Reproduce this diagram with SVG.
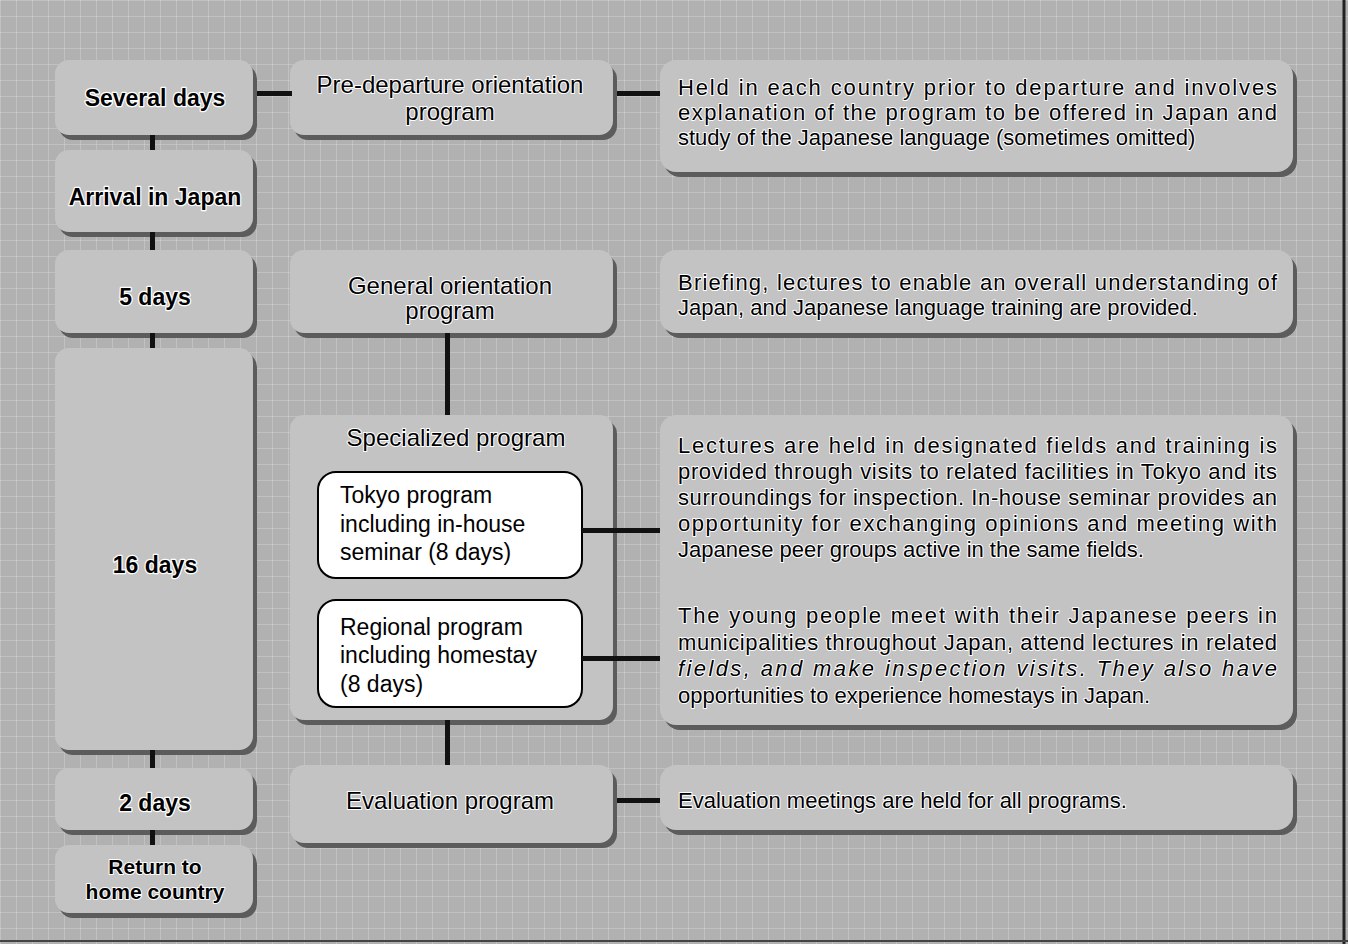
<svg xmlns="http://www.w3.org/2000/svg" width="1348" height="944" viewBox="0 0 1348 944">
<style>
.bg{fill:#b1b1b1}
.box{fill:#c3c3c3}
.sh{fill:#5c5c5c}
.wbox{fill:#ffffff;stroke:#000;stroke-width:2}
.con{fill:#111}
text{font-family:"Liberation Sans",Arial,Helvetica,sans-serif;fill:#000}
.lb{font-size:23px;font-weight:bold;text-anchor:middle;stroke:#fff;stroke-width:2.5px;paint-order:stroke;stroke-linejoin:round}
.lb2{font-size:21px;font-weight:bold;text-anchor:middle;stroke:#fff;stroke-width:2px;paint-order:stroke;stroke-linejoin:round}
.mid{font-size:24px;text-anchor:middle;stroke:#fff;stroke-width:2px;paint-order:stroke;stroke-linejoin:round}
.rt{font-size:22px;stroke:#fff;stroke-width:2px;paint-order:stroke;stroke-linejoin:round}
.it{font-style:italic}
.wt{font-size:23px}
</style>
<defs>
<pattern id="grid" width="16" height="16" patternUnits="userSpaceOnUse">
<path d="M0 0.5H16M0.5 0V16" stroke="#ffffff" stroke-opacity="0.2" stroke-width="1" fill="none"/>
</pattern>
</defs>
<rect class="bg" x="0" y="0" width="1348" height="944"/>
<rect x="0" y="0" width="1348" height="944" fill="url(#grid)"/>
<line x1="1344" y1="0" x2="1344" y2="944" stroke="#222" stroke-width="3"/>
<line x1="0" y1="941" x2="1348" y2="941" stroke="#444" stroke-width="2"/>

<g id="several-days"><rect class="sh" x="59" y="65" width="198" height="75" rx="14"/><rect class="box" x="55" y="60" width="198" height="75" rx="14"/><text class="lb" x="155" y="106">Several days</text></g>
<g id="arrival"><rect class="sh" x="59" y="155" width="198" height="82" rx="14"/><rect class="box" x="55" y="150" width="198" height="82" rx="14"/><text class="lb" x="155" y="205">Arrival in Japan</text></g>
<g id="five-days"><rect class="sh" x="59" y="255" width="198" height="83" rx="14"/><rect class="box" x="55" y="250" width="198" height="83" rx="14"/><text class="lb" x="155" y="305">5 days</text></g>
<g id="sixteen-days"><rect class="sh" x="59" y="353" width="198" height="402" rx="14"/><rect class="box" x="55" y="348" width="198" height="402" rx="14"/><text class="lb" x="155" y="573">16 days</text></g>
<g id="two-days"><rect class="sh" x="59" y="773" width="198" height="62" rx="14"/><rect class="box" x="55" y="768" width="198" height="62" rx="14"/><text class="lb" x="155" y="811">2 days</text></g>
<g id="return"><rect class="sh" x="59" y="850" width="198" height="68" rx="14"/><rect class="box" x="55" y="845" width="198" height="68" rx="14"/><text class="lb2" x="155" y="874">Return to</text><text class="lb2" x="155" y="899">home country</text></g>

<g id="pre-departure"><rect class="sh" x="294" y="65" width="323" height="75" rx="14"/><rect class="box" x="290" y="60" width="323" height="75" rx="14"/><text class="mid" x="450" y="93">Pre-departure orientation</text><text class="mid" x="450" y="120">program</text></g>
<g id="general"><rect class="sh" x="294" y="255" width="323" height="83" rx="14"/><rect class="box" x="290" y="250" width="323" height="83" rx="14"/><text class="mid" x="450" y="294">General orientation</text><text class="mid" x="450" y="319">program</text></g>
<g id="specialized"><rect class="sh" x="294" y="420" width="323" height="305" rx="14"/><rect class="box" x="290" y="415" width="323" height="305" rx="14"/><text class="mid" x="456" y="446">Specialized program</text></g>
<g id="evaluation"><rect class="sh" x="294" y="770" width="323" height="78" rx="14"/><rect class="box" x="290" y="765" width="323" height="78" rx="14"/><text class="mid" x="450" y="809">Evaluation program</text></g>

<g id="tokyo"><rect class="wbox" x="318" y="472" width="264" height="106" rx="18"/><text class="wt" x="340" y="503">Tokyo program</text><text class="wt" x="340" y="532">including in-house</text><text class="wt" x="340" y="560">seminar (8 days)</text></g>
<g id="regional"><rect class="wbox" x="318" y="600" width="264" height="107" rx="18"/><text class="wt" x="340" y="635">Regional program</text><text class="wt" x="340" y="663">including homestay</text><text class="wt" x="340" y="692">(8 days)</text></g>

<g id="desc-pre"><rect class="sh" x="664" y="65" width="633" height="112" rx="16"/><rect class="box" x="660" y="60" width="633" height="112" rx="16"/>
<text class="rt" x="678" y="95" textLength="599" lengthAdjust="spacing">Held in each country prior to departure and involves</text>
<text class="rt" x="678" y="120" textLength="599" lengthAdjust="spacing">explanation of the program to be offered in Japan and</text>
<text class="rt" x="678" y="145">study of the Japanese language (sometimes omitted)</text></g>
<g id="desc-general"><rect class="sh" x="664" y="255" width="633" height="83" rx="16"/><rect class="box" x="660" y="250" width="633" height="83" rx="16"/>
<text class="rt" x="678" y="290" textLength="599" lengthAdjust="spacing">Briefing, lectures to enable an overall understanding of</text>
<text class="rt" x="678" y="315">Japan, and Japanese language training are provided.</text></g>
<g id="desc-specialized"><rect class="sh" x="664" y="420" width="633" height="310" rx="16"/><rect class="box" x="660" y="415" width="633" height="310" rx="16"/>
<text class="rt" x="678" y="453" textLength="599" lengthAdjust="spacing">Lectures are held in designated fields and training is</text>
<text class="rt" x="678" y="479" textLength="599" lengthAdjust="spacing">provided through visits to related facilities in Tokyo and its</text>
<text class="rt" x="678" y="505" textLength="599" lengthAdjust="spacing">surroundings for inspection. In-house seminar provides an</text>
<text class="rt" x="678" y="531" textLength="599" lengthAdjust="spacing">opportunity for exchanging opinions and meeting with</text>
<text class="rt" x="678" y="557">Japanese peer groups active in the same fields.</text>
<text class="rt" x="678" y="623" textLength="599" lengthAdjust="spacing">The young people meet with their Japanese peers in</text>
<text class="rt" x="678" y="650" textLength="599" lengthAdjust="spacing">municipalities throughout Japan, attend lectures in related</text>
<text class="rt it" x="678" y="676" textLength="599" lengthAdjust="spacing">fields, and make inspection visits. They also have</text>
<text class="rt" x="678" y="703">opportunities to experience homestays in Japan.</text></g>
<g id="desc-evaluation"><rect class="sh" x="664" y="770" width="633" height="65" rx="16"/><rect class="box" x="660" y="765" width="633" height="65" rx="16"/>
<text class="rt" x="678" y="808">Evaluation meetings are held for all programs.</text></g>

<g id="connectors">
<rect class="con" x="150" y="135" width="5" height="15"/>
<rect class="con" x="150" y="232" width="5" height="18"/>
<rect class="con" x="150" y="333" width="5" height="15"/>
<rect class="con" x="150" y="750" width="5" height="18"/>
<rect class="con" x="150" y="830" width="5" height="15"/>
<rect class="con" x="445" y="333" width="5" height="82"/>
<rect class="con" x="445" y="720" width="5" height="45"/>
<rect class="con" x="257" y="91" width="35" height="5"/>
<rect class="con" x="617" y="91" width="43" height="5"/>
<rect class="con" x="582" y="528" width="78" height="5"/>
<rect class="con" x="582" y="656" width="78" height="5"/>
<rect class="con" x="617" y="798" width="43" height="5"/>
</g>
</svg>
